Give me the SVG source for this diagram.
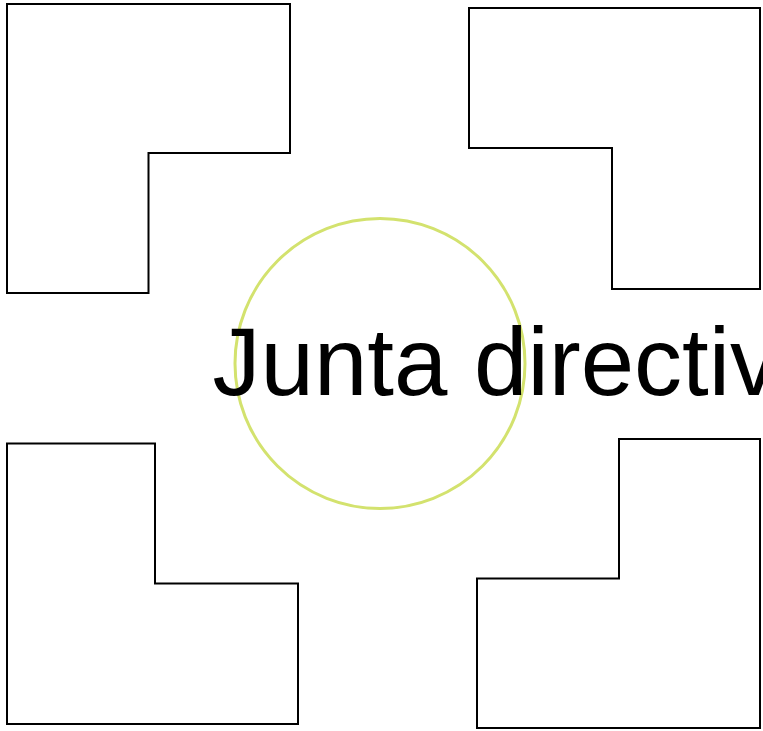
<svg xmlns="http://www.w3.org/2000/svg" width="763" height="731" viewBox="0 0 763 731">
<style>
.shape{fill:#fff;stroke:#000;stroke-width:2;stroke-linejoin:miter}
.ring{fill:none;stroke:#d3e26e;stroke-width:3}
.label{font-family:"Liberation Sans",Arial,sans-serif;font-size:96px;fill:#000}
</style>
<rect width="763" height="731" fill="#fff"/>
<g id="shape-top-left"><polygon class="shape" points="7,4 290,4 290,153 148.5,153 148.5,293 7,293"/></g>
<g id="shape-top-right"><polygon class="shape" points="469,8 760,8 760,289 612,289 612,148 469,148"/></g>
<g id="shape-bottom-left"><polygon class="shape" points="7,443.5 155,443.5 155,583.5 298,583.5 298,724 7,724"/></g>
<g id="shape-bottom-right"><polygon class="shape" points="619,439 760,439 760,728 477,728 477,578.5 619,578.5"/></g>
<g id="center"><circle class="ring" cx="380" cy="363.5" r="145"/>
<text class="label" x="212.5" y="395">Junta directiva</text></g>
<g id="connectors"></g>
</svg>
